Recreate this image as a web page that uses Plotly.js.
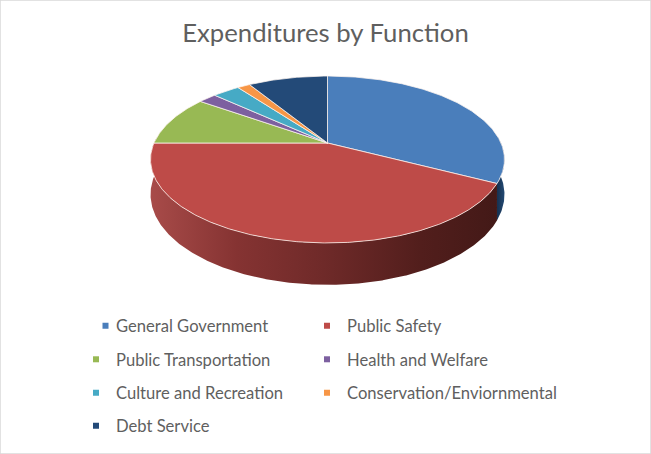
<!DOCTYPE html>
<html>
<head>
<meta charset="utf-8">
<script src="https://cdn.plot.ly/plotly-3.0.1.min.js"></script>
<style>html,body{margin:0;padding:0;background:#fff}#chart{width:651px;height:454px}</style>
</head>
<body>
<div id="chart"></div>
<script>
var categories = ["General Government","Public Safety","Public Transportation","Health and Welfare","Culture and Recreation","Conservation/Enviornmental","Debt Service"];
var shares = [32.6,42.4,9.8,2.0,3.0,1.4,8.8];
var colors = ["#4a7ebb","#be4b48","#98b954","#7d60a0","#46aac5","#f79646","#234a78"];

var W = 651, H = 454;
// perspective view of the disc
var CX = 327.5, CY = 143, RX = 173.5, RY = 80.2, K = 0.1976, DEPTH = 33.6;
function project(deg, depth) {
  var a = deg * Math.PI / 180, u = Math.sin(a), v = Math.cos(a), w = 1 + K * v;
  return [CX + RX * u / w, CY - RY * v / w + depth / w];
}
function arc(d0, d1, depth) {
  var n = Math.max(2, Math.ceil(Math.abs(d1 - d0) * 2)), pts = [];
  for (var i = 0; i <= n; i++) pts.push(project(d0 + (d1 - d0) * i / n, depth));
  return pts;
}
var total = shares.reduce(function (a, b) { return a + b; }, 0);
var edges = [0];
shares.forEach(function (s) { edges.push(edges[edges.length - 1] + s / total * 360); });

function polyTrace(pts, extra) {
  var t = { type: "scatter", mode: "lines", x: pts.map(function (p) { return p[0]; }), y: pts.map(function (p) { return p[1]; }),
    fill: "toself", showlegend: false, hoverinfo: "skip" };
  for (var k in extra) t[k] = extra[k];
  return t;
}
function wall(d0, d1, scale, solid) {
  var pts = arc(d0, d1, 0).concat(arc(d1, d0, DEPTH));
  pts.push(pts[0]);
  return polyTrace(pts, { line: { width: 0, color: solid }, fillcolor: solid,
    fillgradient: { type: "horizontal", colorscale: scale } });
}
var traces = [];
// visible side walls: the part of General Government past the right edge, and Public Safety
traces.push(wall(85, edges[1], [[0, "#16304f"], [1, "#244a74"]], "#1f3a5f"));
traces.push(wall(edges[1], edges[2] + 4, [[0, "#a84b49"], [0.25, "#853332"], [0.5, "#6f2a29"], [0.78, "#521e1c"], [1, "#431917"]], "#6f2a29"));
// top faces
categories.forEach(function (c, i) {
  var pts = [[CX, CY]].concat(arc(edges[i], edges[i + 1], 0));
  pts.push([CX, CY]);
  traces.push(polyTrace(pts, { name: c, fillcolor: colors[i], line: { color: "rgba(255,245,240,0.75)", width: 1 } }));
});
// legend entries
var legendCols = [76, 307], legendRows = [326, 359.5, 393, 426];
var layout = {
  width: W, height: H, margin: { l: 0, r: 0, t: 0, b: 0 }, paper_bgcolor: "#fff", plot_bgcolor: "#fff",
  title: { text: "Expenditures by Function", x: 0.5, xanchor: "center", y: 1 - 33 / H, yanchor: "middle",
    font: { family: "Lato, 'Open Sans', sans-serif", size: 25.7, color: "#5f5f5f" } },
  xaxis: { range: [0, W], visible: false, fixedrange: true },
  yaxis: { range: [H, 0], visible: false, fixedrange: true },
  showlegend: true,
  shapes: [{ type: "rect", xref: "paper", yref: "paper", x0: 0, x1: 1, y0: 0, y1: 1, line: { color: "#d9d9d9", width: 1.5 }, fillcolor: "rgba(0,0,0,0)", layer: "below" }]
};
categories.forEach(function (c, i) {
  var id = i === 0 ? "legend" : "legend" + (i + 1);
  traces.push({ type: "scatter", mode: "markers", x: [-50], y: [-50], name: c, legend: id, hoverinfo: "skip",
    marker: { symbol: "square", size: 6, color: colors[i] }, showlegend: true, cliponaxis: true });
  layout[id] = { x: legendCols[i % 2] / W, xanchor: "left", y: 1 - legendRows[Math.floor(i / 2)] / H, yanchor: "middle",
    bgcolor: "rgba(0,0,0,0)", borderwidth: 0, font: { family: "Lato, 'Open Sans', sans-serif", size: 16.6, color: "#5f5f5f" } };
});
Plotly.newPlot("chart", traces, layout, { displayModeBar: false, staticPlot: true }).then(function (gd) {
  // bring the legend swatches close to their labels, as in the reference
  gd.querySelectorAll(".legend .legendpoints").forEach(function (g) { g.setAttribute("transform", "translate(9.5,0)"); });
});
</script>
</body>
</html>
